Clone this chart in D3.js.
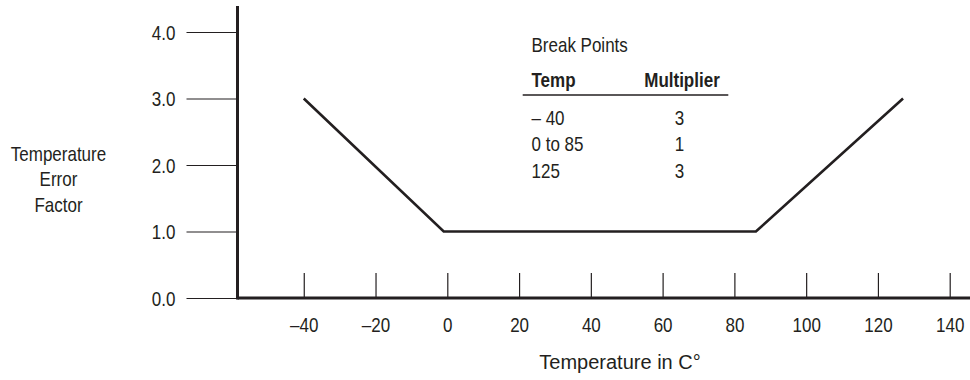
<!DOCTYPE html>
<html>
<head>
<meta charset="utf-8">
<script src="https://cdn.jsdelivr.net/npm/d3@7"></script>
<style>
  html, body { margin: 0; padding: 0; background: #fff; }
  svg text { font-family: "Liberation Sans", Arial, Helvetica, sans-serif; fill: #231f20; }
</style>
</head>
<body>
<svg id="chart" width="970" height="380"></svg>
<script>
// ---- data ----
const xTicks = [-40, -20, 0, 20, 40, 60, 80, 100, 120, 140];
const yTicks = [0, 1, 2, 3, 4];
const curveTemp = [-40, -1, 86, 127];
const curveFactor = [3, 1, 1, 3];
const tableTitle = "Break Points";
const tableHeaders = ["Temp", "Multiplier"];
const tableTemp = ["– 40", "0 to 85", "125"];
const tableMult = ["3", "1", "3"];
const yTitle = ["Temperature", "Error", "Factor"];
const xTitle = "Temperature in C°";

// ---- layout ----
const svg = d3.select("#chart");
const ink = "#231f20";
const x = d3.scaleLinear().domain([0, 140]).range([447.3, 949.7]);
const y = d3.scaleLinear().domain([0, 4]).range([298, 32]);
const axisX0 = 237.5;
const fs = 20;
const squeeze = 0.85;

// condense text horizontally (narrow typeface look)
function condense(sel, k = squeeze) {
  sel.each(function () {
    const t = d3.select(this);
    const tx = +t.attr("x") || 0, ty = +t.attr("y") || 0;
    t.attr("x", 0).attr("y", 0)
     .attr("transform", `translate(${tx},${ty}) scale(${k},1)`);
  });
}

// y axis ticks + labels
const yAxis = svg.append("g").attr("transform", `translate(${axisX0},0)`)
  .call(d3.axisLeft(y).tickValues(yTicks).tickSize(51).tickPadding(11).tickFormat(d3.format(".1f")));
yAxis.select(".domain").remove();
yAxis.selectAll(".tick line").attr("stroke", ink).attr("stroke-width", 1.2);
yAxis.selectAll(".tick text").attr("font-size", fs).attr("fill", ink).attr("font-family", null)
  .attr("dy", "0.36em").call(condense);

// x axis ticks + labels (ticks point up)
const xAxis = svg.append("g").attr("transform", `translate(0,${y(0)})`)
  .call(d3.axisBottom(x).tickValues(xTicks).tickSize(-25).tickPadding(0).tickFormat(d => d < 0 ? "–" + Math.abs(d) : String(d)));
xAxis.select(".domain").remove();
xAxis.selectAll(".tick line").attr("stroke", ink).attr("stroke-width", 1.2);
xAxis.selectAll(".tick text").attr("font-size", fs).attr("fill", ink).attr("font-family", null)
  .attr("y", 33.5).attr("dy", null).call(condense);

// bold axis lines
svg.append("line").attr("x1", axisX0).attr("x2", axisX0).attr("y1", 6).attr("y2", y(0) + 1.5)
  .attr("stroke", ink).attr("stroke-width", 3);
svg.append("line").attr("x1", axisX0).attr("x2", 970).attr("y1", y(0)).attr("y2", y(0))
  .attr("stroke", ink).attr("stroke-width", 3);

// curve
const pts = curveTemp.map((t, i) => [t, curveFactor[i]]);
svg.append("path").datum(pts)
  .attr("d", d3.line().x(d => x(d[0])).y(d => y(d[1])))
  .attr("fill", "none").attr("stroke", ink).attr("stroke-width", 2.6).attr("stroke-linejoin", "miter");

// y title
svg.append("g").selectAll("text").data(yTitle).join("text")
  .attr("x", 58.5).attr("y", (d, i) => 160.5 + i * 25.6)
  .attr("text-anchor", "middle").attr("font-size", fs).text(d => d).call(condense);

// x title
svg.append("text").attr("x", 620).attr("y", 369).attr("text-anchor", "middle")
  .attr("font-size", fs).text(xTitle).call(condense, 1.0);

// table
const tbl = svg.append("g");
tbl.append("text").attr("x", 531.5).attr("y", 52).attr("font-size", fs).text(tableTitle).call(condense);
tbl.append("text").attr("x", 531.5).attr("y", 87).attr("font-size", fs).attr("font-weight", "bold").text(tableHeaders[0]).call(condense);
tbl.append("text").attr("x", 682).attr("y", 87).attr("font-size", fs).attr("font-weight", "bold")
  .attr("text-anchor", "middle").text(tableHeaders[1]).call(condense);
tbl.append("line").attr("x1", 522.7).attr("x2", 728.3).attr("y1", 95).attr("y2", 95)
  .attr("stroke", ink).attr("stroke-width", 1.3);
tbl.selectAll("text.c1").data(tableTemp).join("text").attr("class", "c1")
  .attr("x", 531.5).attr("y", (d, i) => 125 + i * 26.3).attr("font-size", fs).text(d => d).call(condense);
tbl.selectAll("text.c2").data(tableMult).join("text").attr("class", "c2")
  .attr("x", 679.5).attr("y", (d, i) => 125 + i * 26.3).attr("font-size", fs)
  .attr("text-anchor", "middle").text(d => d).call(condense);
</script>
</body>
</html>
